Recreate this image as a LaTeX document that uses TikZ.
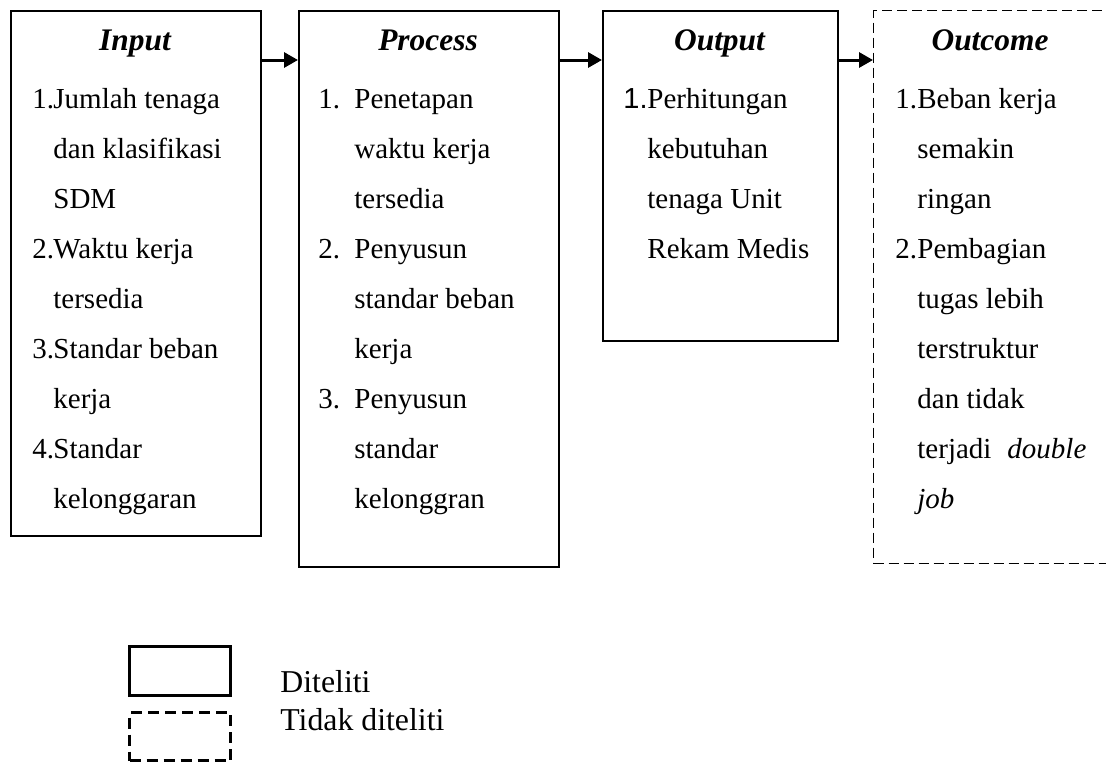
\documentclass[tikz,border=0pt]{standalone}
\usepackage{fontspec}
\setmainfont{Liberation Serif}
\newfontfamily\numsans{Liberation Sans}
\usetikzlibrary{arrows.meta}

\begin{document}
\begin{tikzpicture}[%
        x=0.5pt, y=-0.5pt,
        box/.style={draw, line width=0.75pt, inner sep=0pt, anchor=north west},
        dashbox/.style={draw, line width=0.6pt, dash pattern=on 5pt off 2.5pt, inner sep=0pt, anchor=north west},
        title/.style={font=\fontsize{15.7pt}{18pt}\selectfont\bfseries\itshape, inner sep=0pt, anchor=base},
        item/.style={font=\fontsize{14.5pt}{17pt}\selectfont, inner sep=0pt, anchor=base west},
        legend/.style={font=\fontsize{15.9pt}{19pt}\selectfont, inner sep=0pt, anchor=base west},
        arr/.style={line width=1.5pt, -{Triangle[length=7pt,width=7.5pt]}}
    ]
    \useasboundingbox (0,0) rectangle (1106,762);
    \coordinate (arrowrow) at (0,60);

    % boxes
    \node [box, minimum width=125pt, minimum height=262.5pt] (input) at (10,10) {};
    \node [box, minimum width=130pt, minimum height=278pt] (process) at (298,10) {};
    \node [box, minimum width=117.5pt, minimum height=165pt] (output) at (602,10) {};
    \begin{scope}
        \clip (0,0) rectangle (1106,762);
        \node [dashbox, minimum width=117.5pt, minimum height=276.5pt] (outcome) at (873,10) {};
    \end{scope}

    % titles
    \node [title] (input-t) at (135,50) {Input};
    \node [title] (process-t) at (428,50) {Process};
    \node [title] (output-t) at (719.5,50) {Output};
    \node [title] (outcome-t) at (990,50) {Outcome};

    % items
    \foreach \n/\t [count=\i from 0] in {1./Jumlah tenaga, /dan klasifikasi, /SDM,
            2./Waktu kerja, /tersedia, 3./Standar beban, /kerja, 4./Standar, /kelonggaran} {
        \node [item] (input-\i) at (53,108+50*\i) {\llap{\makebox[10.5pt][l]{\n}}\t};
    }
    \foreach \n/\t [count=\i from 0] in {1./Penetapan, /waktu kerja, /tersedia,
            2./Penyusun, /standar beban, /kerja, 3./Penyusun, /standar, /kelonggran} {
        \node [item] (process-\i) at (354,108+50*\i) {\llap{\makebox[18pt][l]{\n}}\t};
    }
    \foreach \n/\t [count=\i from 0] in {{\numsans 1.}/Perhitungan, /kebutuhan, /tenaga Unit, /Rekam Medis} {
        \node [item] (output-\i) at (647,108+50*\i) {\llap{\makebox[12pt][l]{\n}}\t};
    }
    \foreach \n/\t [count=\i from 0] in {1./Beban kerja, /semakin, /ringan, 2./Pembagian,
            /tugas lebih, /terstruktur, /dan tidak, /terjadi\hspace{8pt}\textit{double}, /\textit{job}} {
        \node [item] (outcome-\i) at (917,108+50*\i) {\llap{\makebox[11pt][l]{\n}}\t};
    }

    % arrows
    \draw [arr] (input.east |- arrowrow) -- (process.west |- arrowrow);
    \draw [arr] (process.east |- arrowrow) -- (output.west |- arrowrow);
    \draw [arr] (output.east |- arrowrow) -- (outcome.west |- arrowrow);

    % legend
    \node [draw, line width=1.3pt, inner sep=0pt, anchor=north west,
        minimum width=50.5pt, minimum height=24.5pt] (legsolid) at (128,645) {};
    \node [draw, line width=1.5pt, dash pattern=on 5.5pt off 3pt, inner sep=0pt, anchor=north west,
        minimum width=50.5pt, minimum height=24pt] (legdashed) at (128,711) {};
    \node [legend] (legsolid-t) at (280,692) {Diteliti};
    \node [legend] (legdashed-t) at (280,730) {Tidak diteliti};
\end{tikzpicture}
\end{document}
